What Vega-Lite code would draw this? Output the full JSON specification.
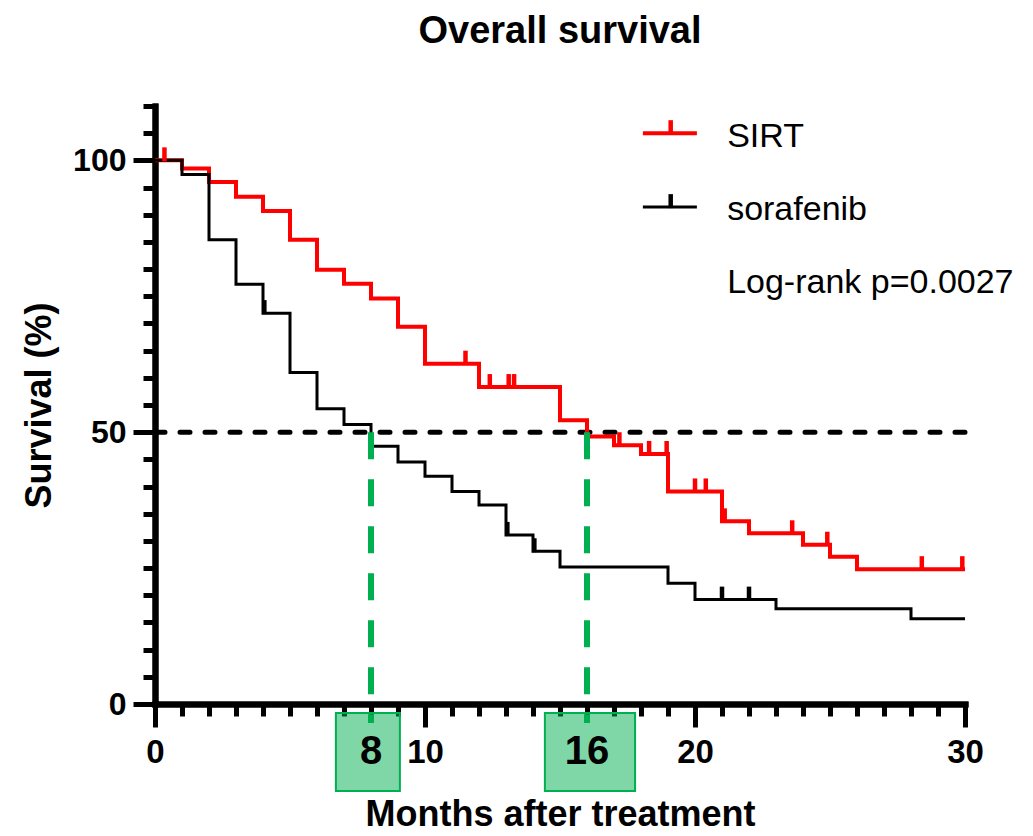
{
  "$schema": "https://vega.github.io/schema/vega-lite/v6.json",
  "width": 810,
  "height": 598,
  "autosize": {"type": "none"},
  "padding": {"left": 155, "top": 106, "right": 68, "bottom": 132},
  "background": "white",
  "config": {"view": {"stroke": null}, "font": "Liberation Sans"},
  "title": {"text": "Overall survival", "fontSize": 38, "fontWeight": "bold", "color": "black", "font": "Liberation Sans", "anchor": "middle", "offset": 53},
  "resolve": {"axis": {"x": "independent", "y": "independent"}},
  "datasets": {
    "curves": [
      {"group": "SIRT", "t": 0, "s": 100}, {"group": "SIRT", "t": 1, "s": 98.5}, {"group": "SIRT", "t": 2, "s": 96.0}, {"group": "SIRT", "t": 3, "s": 93.3},
      {"group": "SIRT", "t": 4, "s": 90.7}, {"group": "SIRT", "t": 5, "s": 85.4}, {"group": "SIRT", "t": 6, "s": 79.9}, {"group": "SIRT", "t": 7, "s": 77.3},
      {"group": "SIRT", "t": 8, "s": 74.6}, {"group": "SIRT", "t": 9, "s": 69.4}, {"group": "SIRT", "t": 10, "s": 62.6}, {"group": "SIRT", "t": 12, "s": 58.3},
      {"group": "SIRT", "t": 15, "s": 52.2}, {"group": "SIRT", "t": 16, "s": 49.2}, {"group": "SIRT", "t": 17, "s": 47.6}, {"group": "SIRT", "t": 18, "s": 46.0},
      {"group": "SIRT", "t": 19, "s": 39.1}, {"group": "SIRT", "t": 21, "s": 33.6}, {"group": "SIRT", "t": 22, "s": 31.4}, {"group": "SIRT", "t": 24, "s": 29.3},
      {"group": "SIRT", "t": 25, "s": 27.1}, {"group": "SIRT", "t": 26, "s": 24.8}, {"group": "SIRT", "t": 30, "s": 24.8},
      {"group": "sorafenib", "t": 0, "s": 100}, {"group": "sorafenib", "t": 1, "s": 97.4}, {"group": "sorafenib", "t": 2, "s": 85.4}, {"group": "sorafenib", "t": 3, "s": 77.2},
      {"group": "sorafenib", "t": 4, "s": 71.9}, {"group": "sorafenib", "t": 5, "s": 61.0}, {"group": "sorafenib", "t": 6, "s": 54.3}, {"group": "sorafenib", "t": 7, "s": 51.4},
      {"group": "sorafenib", "t": 8, "s": 47.4}, {"group": "sorafenib", "t": 9, "s": 44.5}, {"group": "sorafenib", "t": 10, "s": 41.9}, {"group": "sorafenib", "t": 11, "s": 39.1},
      {"group": "sorafenib", "t": 12, "s": 36.6}, {"group": "sorafenib", "t": 13, "s": 31.1}, {"group": "sorafenib", "t": 14, "s": 28.1}, {"group": "sorafenib", "t": 15, "s": 25.2},
      {"group": "sorafenib", "t": 19, "s": 22.2}, {"group": "sorafenib", "t": 20, "s": 19.2}, {"group": "sorafenib", "t": 23, "s": 17.5}, {"group": "sorafenib", "t": 28, "s": 15.7},
      {"group": "sorafenib", "t": 30, "s": 15.7}
    ],
    "censored": [
      {"group": "SIRT", "t": 0.35, "s": 100}, {"group": "SIRT", "t": 11.5, "s": 62.6}, {"group": "SIRT", "t": 12.4, "s": 58.3}, {"group": "SIRT", "t": 13.1, "s": 58.3},
      {"group": "SIRT", "t": 13.3, "s": 58.3}, {"group": "SIRT", "t": 17.2, "s": 47.6}, {"group": "SIRT", "t": 18.3, "s": 46.0}, {"group": "SIRT", "t": 18.95, "s": 46.0},
      {"group": "SIRT", "t": 20.0, "s": 39.1}, {"group": "SIRT", "t": 20.4, "s": 39.1}, {"group": "SIRT", "t": 21.1, "s": 33.6}, {"group": "SIRT", "t": 23.6, "s": 31.4},
      {"group": "SIRT", "t": 24.9, "s": 29.3}, {"group": "SIRT", "t": 28.4, "s": 24.8}, {"group": "SIRT", "t": 29.9, "s": 24.8},
      {"group": "sorafenib", "t": 4.05, "s": 71.9}, {"group": "sorafenib", "t": 13.05, "s": 31.1}, {"group": "sorafenib", "t": 14.05, "s": 28.1},
      {"group": "sorafenib", "t": 21.0, "s": 19.2}, {"group": "sorafenib", "t": 22.0, "s": 19.2}
    ],
    "legendLines": [
      {"group": "SIRT", "x": 18.07, "x2": 20.07, "y": 105.0, "xm": 19.1},
      {"group": "sorafenib", "x": 18.07, "x2": 20.07, "y": 91.4, "xm": 19.1}
    ],
    "legendText": [
      {"label": "SIRT", "x": 21.19, "y": 102.5},
      {"label": "sorafenib", "x": 21.19, "y": 89.0},
      {"label": "Log-rank p=0.0027", "x": 21.19, "y": 75.6}
    ],
    "medians": [
      {"x": 8, "y": 50, "y2": -3.5, "bx": 6.7, "bx2": 9.07, "by": -1.66, "by2": -16.0, "ty": -8.8, "label": "8"},
      {"x": 16, "y": 50, "y2": -3.5, "bx": 14.44, "bx2": 17.78, "by": -1.66, "by2": -16.0, "ty": -8.8, "label": "16"}
    ],
    "half": [{"x": 0, "x2": 30, "y": 50}]
  },
  "layer": [
    {
      "data": {"name": "half"},
      "mark": {"type": "rule", "strokeWidth": 5, "strokeDash": [10, 15], "strokeCap": "round", "color": "black"},
      "encoding": {
        "x": {
          "field": "x", "type": "quantitative",
          "scale": {"domain": [0, 30], "nice": false},
          "axis": {
            "orient": "bottom", "title": null, "labels": false,
            "values": [0,1,2,3,4,5,6,7,8,9,10,11,12,13,14,15,16,17,18,19,20,21,22,23,24,25,26,27,28,29,30],
            "tickSize": 12, "tickWidth": 5, "tickColor": "black",
            "domainColor": "black", "domainWidth": 6, "domainCap": "square", "grid": false
          }
        },
        "x2": {"field": "x2"},
        "y": {
          "field": "y", "type": "quantitative",
          "scale": {"domain": [0, 110], "nice": false},
          "axis": {
            "orient": "left", "title": null, "labels": false,
            "values": [0,5,10,15,20,25,30,35,40,45,50,55,60,65,70,75,80,85,90,95,100,105,110],
            "tickSize": 12, "tickWidth": 5, "tickColor": "black",
            "domainColor": "black", "domainWidth": 6, "domainCap": "square", "grid": false
          }
        }
      }
    },
    {
      "data": {"name": "curves"},
      "mark": {"type": "line", "interpolate": "step-after"},
      "encoding": {
        "x": {
          "field": "t", "type": "quantitative",
          "axis": {
            "orient": "bottom",
            "title": "Months after treatment",
            "values": [0, 10, 20, 30],
            "tickSize": 23, "tickWidth": 5, "tickColor": "black",
            "domainColor": "black", "domainWidth": 6, "domainCap": "square",
            "labelFont": "Liberation Sans", "labelFontSize": 33, "labelFontWeight": "bold", "labelColor": "black",
            "labelPadding": 9, "labelFlush": false, "labelOverlap": false, "labelBound": false,
            "titleFont": "Liberation Sans", "titleFontSize": 36, "titleFontWeight": "bold", "titleColor": "black", "titlePadding": 28,
            "grid": false
          }
        },
        "y": {
          "field": "s", "type": "quantitative",
          "axis": {
            "orient": "left",
            "title": "Survival (%)",
            "values": [0, 50, 100],
            "tickSize": 22, "tickWidth": 5, "tickColor": "black",
            "domainColor": "black", "domainWidth": 6, "domainCap": "square",
            "labelFont": "Liberation Sans", "labelFontSize": 32, "labelFontWeight": "bold", "labelColor": "black",
            "labelPadding": 7, "labelFlush": false, "labelOverlap": false, "labelBound": false,
            "titleFont": "Liberation Sans", "titleFontSize": 36, "titleFontWeight": "bold", "titleColor": "black", "titlePadding": 14,
            "grid": false
          }
        },
        "color": {"field": "group", "type": "nominal", "scale": {"domain": ["SIRT", "sorafenib"], "range": ["#FF0000", "#000000"]}, "legend": null},
        "strokeWidth": {"field": "group", "type": "nominal", "scale": {"domain": ["SIRT", "sorafenib"], "range": [4, 3]}, "legend": null}
      }
    },
    {
      "data": {"name": "censored"},
      "mark": {"type": "tick", "orient": "vertical", "size": 14, "thickness": 4.5, "yOffset": -6, "opacity": 1},
      "encoding": {
        "x": {"field": "t", "type": "quantitative", "axis": null},
        "y": {"field": "s", "type": "quantitative", "axis": null},
        "color": {"field": "group", "type": "nominal", "legend": null}
      }
    },
    {
      "data": {"name": "legendLines"},
      "mark": {"type": "rule"},
      "encoding": {
        "x": {"field": "x", "type": "quantitative", "axis": null},
        "x2": {"field": "x2"},
        "y": {"field": "y", "type": "quantitative", "axis": null},
        "color": {"field": "group", "type": "nominal", "legend": null},
        "strokeWidth": {"field": "group", "type": "nominal", "legend": null}
      }
    },
    {
      "data": {"name": "legendLines"},
      "mark": {"type": "tick", "orient": "vertical", "size": 14, "thickness": 4.5, "yOffset": -6, "opacity": 1},
      "encoding": {
        "x": {"field": "xm", "type": "quantitative", "axis": null},
        "y": {"field": "y", "type": "quantitative", "axis": null},
        "color": {"field": "group", "type": "nominal", "legend": null}
      }
    },
    {
      "data": {"name": "legendText"},
      "mark": {"type": "text", "align": "left", "baseline": "alphabetic", "fontSize": 34, "font": "Liberation Sans", "color": "black"},
      "encoding": {
        "x": {"field": "x", "type": "quantitative", "axis": null},
        "y": {"field": "y", "type": "quantitative", "axis": null},
        "text": {"field": "label"}
      }
    },
    {
      "data": {"name": "medians"},
      "mark": {"type": "rule", "strokeWidth": 6, "strokeDash": [27, 20], "color": "#00B050"},
      "encoding": {
        "x": {"field": "x", "type": "quantitative", "axis": null},
        "y": {"field": "y", "type": "quantitative", "axis": null},
        "y2": {"field": "y2"}
      }
    },
    {
      "data": {"name": "medians"},
      "mark": {"type": "rect", "fill": "#00B050", "fillOpacity": 0.5, "stroke": "#00B050", "strokeWidth": 2},
      "encoding": {
        "x": {"field": "bx", "type": "quantitative", "axis": null},
        "x2": {"field": "bx2"},
        "y": {"field": "by", "type": "quantitative", "axis": null},
        "y2": {"field": "by2"}
      }
    },
    {
      "data": {"name": "medians"},
      "mark": {"type": "text", "align": "center", "baseline": "middle", "fontSize": 40, "fontWeight": "bold", "font": "Liberation Sans", "color": "black"},
      "encoding": {
        "x": {"field": "x", "type": "quantitative", "axis": null},
        "y": {"field": "ty", "type": "quantitative", "axis": null},
        "text": {"field": "label"}
      }
    }
  ]
}
